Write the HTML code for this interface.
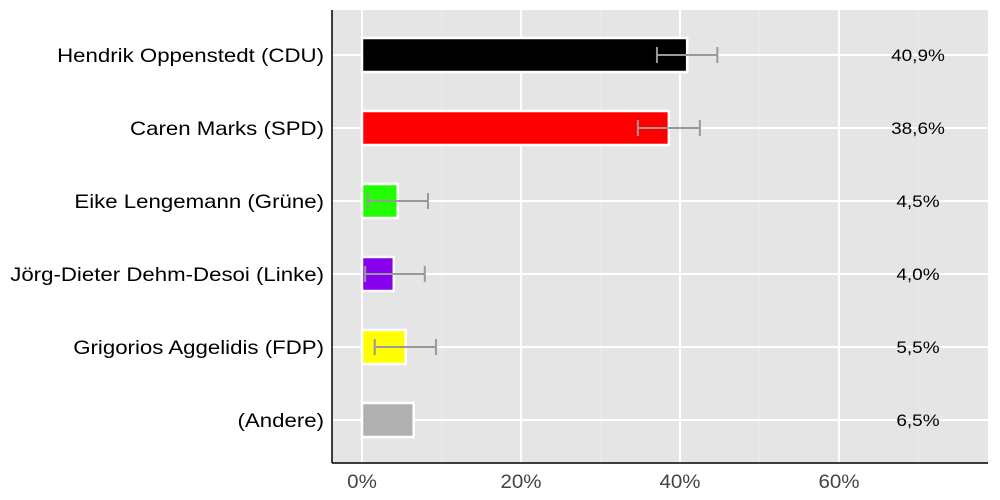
<!DOCTYPE html>
<html><head><meta charset="utf-8"><style>
body{margin:0;background:#fff;}
svg{display:block;font-family:"Liberation Sans",Arial,sans-serif;}
</style></head><body>
<svg id="chart" width="1000" height="500"></svg>
<script>
const categories=["Hendrik Oppenstedt (CDU)","Caren Marks (SPD)","Eike Lengemann (Grüne)","Jörg-Dieter Dehm-Desoi (Linke)","Grigorios Aggelidis (FDP)","(Andere)"];
const values=[40.9,38.6,4.5,4.0,5.5,6.5];
const valueLabels=["40,9%","38,6%","4,5%","4,0%","5,5%","6,5%"];
const errLow=[37.1,34.7,0.75,0.4,1.6,null];
const errHigh=[44.7,42.5,8.3,7.9,9.3,null];
const colors=["#000000","#ff0000","#22ff00","#8800ee","#ffff00","#b0b0b0"];
const xTicks=[0,20,40,60];
const xMinor=[10,30,50,70];
const ns="http://www.w3.org/2000/svg";
const svg=document.getElementById("chart");
const L=332,R=988,T=10,B=463;
const x=v=>362+v*7.95;
const y=i=>55+i*73;
function mk(t,a,p){const e=document.createElementNS(ns,t);for(const k in a)e.setAttribute(k,a[k]);(p||svg).appendChild(e);return e;}
function stretch(t,f){const w=t.getComputedTextLength();t.setAttribute("textLength",w*f);t.setAttribute("lengthAdjust","spacingAndGlyphs");}
const bg=mk("rect",{x:L,y:T,width:R-L,height:B-T,fill:"#e5e5e5"});


xMinor.forEach(v=>{const l=mk("line",{x1:x(v),x2:x(v),y1:T,y2:B,stroke:"#ebebeb","stroke-width":1});

});
xTicks.forEach(v=>{const l=mk("line",{x1:x(v),x2:x(v),y1:T,y2:B,stroke:"#fff","stroke-width":2});


const t=mk("text",{x:x(v),y:488,"text-anchor":"middle","font-size":19,fill:"#444"});t.textContent=v+"%";


stretch(t,1.08);});
categories.forEach((c,i)=>{
const gl=mk("line",{x1:L,x2:R,y1:y(i),y2:y(i),stroke:"#fff","stroke-width":2});


const b=mk("rect",{x:x(0),y:y(i)-17,width:x(values[i])-x(0),height:34,fill:colors[i],stroke:"#fff","stroke-width":2.5});


if(errLow[i]!==null){
const g=mk("g",{stroke:"#999","stroke-width":2});


mk("line",{x1:x(errLow[i]),x2:x(errHigh[i]),y1:y(i),y2:y(i)},g);
mk("line",{x1:x(errLow[i]),x2:x(errLow[i]),y1:y(i)-8,y2:y(i)+8},g);
mk("line",{x1:x(errHigh[i]),x2:x(errHigh[i]),y1:y(i)-8,y2:y(i)+8},g);}
const lab=mk("text",{x:324,y:y(i)+7,"text-anchor":"end","font-size":19.5,fill:"#000"});lab.textContent=c;


stretch(lab,1.14);
const vl=mk("text",{x:918,y:y(i)+6,"text-anchor":"middle","font-size":16.5,fill:"#000"});vl.textContent=valueLabels[i];


stretch(vl,1.15);
});
const ya=mk("line",{x1:L,x2:L,y1:T,y2:B,stroke:"#000","stroke-width":1.5});


const xa=mk("line",{x1:L,x2:R,y1:B,y2:B,stroke:"#000","stroke-width":1.5});


</script>
</body></html>
